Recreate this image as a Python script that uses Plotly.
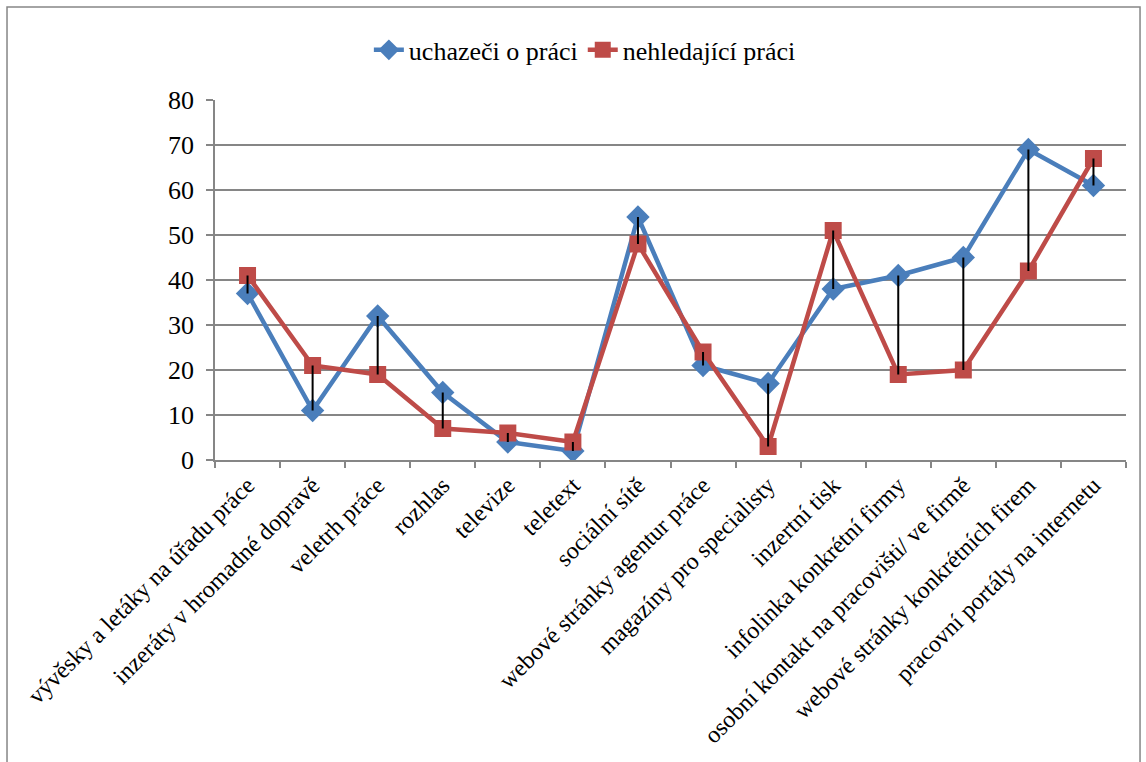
import plotly.graph_objects as go

# Job-search channels (category axis)
channels = [
    "vývěsky a letáky na úřadu práce",
    "inzeráty v hromadné dopravě",
    "veletrh práce",
    "rozhlas",
    "televize",
    "teletext",
    "sociální sítě",
    "webové stránky agentur práce",
    "magazíny pro specialisty",
    "inzertní tisk",
    "infolinka konkrétní firmy",
    "osobní kontakt na pracovišti/ ve firmě",
    "webové stránky konkrétních firem",
    "pracovní portály na internetu",
]

# Series values
uchazeci = [37, 11, 32, 15, 4, 2, 54, 21, 17, 38, 41, 45, 69, 61]
nehledajici = [41, 21, 19, 7, 6, 4, 48, 24, 3, 51, 19, 20, 42, 67]

y_ticks = [0, 10, 20, 30, 40, 50, 60, 70, 80]

BLUE = "#4A7EBB"
RED = "#BE4B48"
GRID = "#868686"
SERIF = "Liberation Serif"

fig = go.Figure()

fig.add_trace(go.Scatter(
    x=channels, y=uchazeci, name="uchazeči o práci",
    mode="lines+markers",
    line=dict(color=BLUE, width=4.5),
    marker=dict(symbol="diamond", size=18, color=BLUE),
))
fig.add_trace(go.Scatter(
    x=channels, y=nehledajici, name="nehledající práci",
    mode="lines+markers",
    line=dict(color=RED, width=4.5),
    marker=dict(symbol="square", size=17, color=RED),
))

# High-low lines joining the two series at each category
hl_x, hl_y = [], []
for c, a, b in zip(channels, uchazeci, nehledajici):
    hl_x += [c, c, None]
    hl_y += [a, b, None]
fig.add_trace(go.Scatter(
    x=hl_x, y=hl_y, mode="lines", showlegend=False, hoverinfo="skip",
    line=dict(color="black", width=2),
))

fig.update_layout(
    width=1146, height=762,
    margin=dict(l=215, r=20, t=100, b=302),
    paper_bgcolor="white", plot_bgcolor="white",
    font=dict(family=SERIF, size=24, color="#000000"),
    showlegend=True,
    legend=dict(
        orientation="h", x=0.406, xanchor="center", y=1.139, yanchor="middle",
        font=dict(family=SERIF, size=26),
    ),
    shapes=[dict(
        type="rect", xref="paper", yref="paper",
        x0=-0.2283, x1=1.0154, y0=-1.0, y1=1.258,
        line=dict(color=GRID, width=1.5), fillcolor="rgba(0,0,0,0)",
        layer="below",
    )],
)

fig.update_xaxes(
    type="category", categoryorder="array", categoryarray=channels,
    range=[-0.5, len(channels) - 0.5], automargin=False,
    showgrid=False, showline=True, linecolor=GRID, linewidth=1.5,
    ticks="outside", tickson="boundaries", ticklen=6, tickcolor=GRID, tickwidth=1.5,
    tickangle=-45, tickfont=dict(family=SERIF, size=24),
    zeroline=False,
)
fig.update_yaxes(
    range=[0, 80], tickvals=y_ticks, automargin=False,
    showgrid=True, gridcolor=GRID, gridwidth=1.5,
    showline=True, linecolor=GRID, linewidth=1.5,
    ticks="outside", ticklen=7, tickcolor=GRID, tickwidth=1.5,
    ticklabelstandoff=7,
    tickfont=dict(family=SERIF, size=26),
    zeroline=False,
)

fig.write_html("out.html")
